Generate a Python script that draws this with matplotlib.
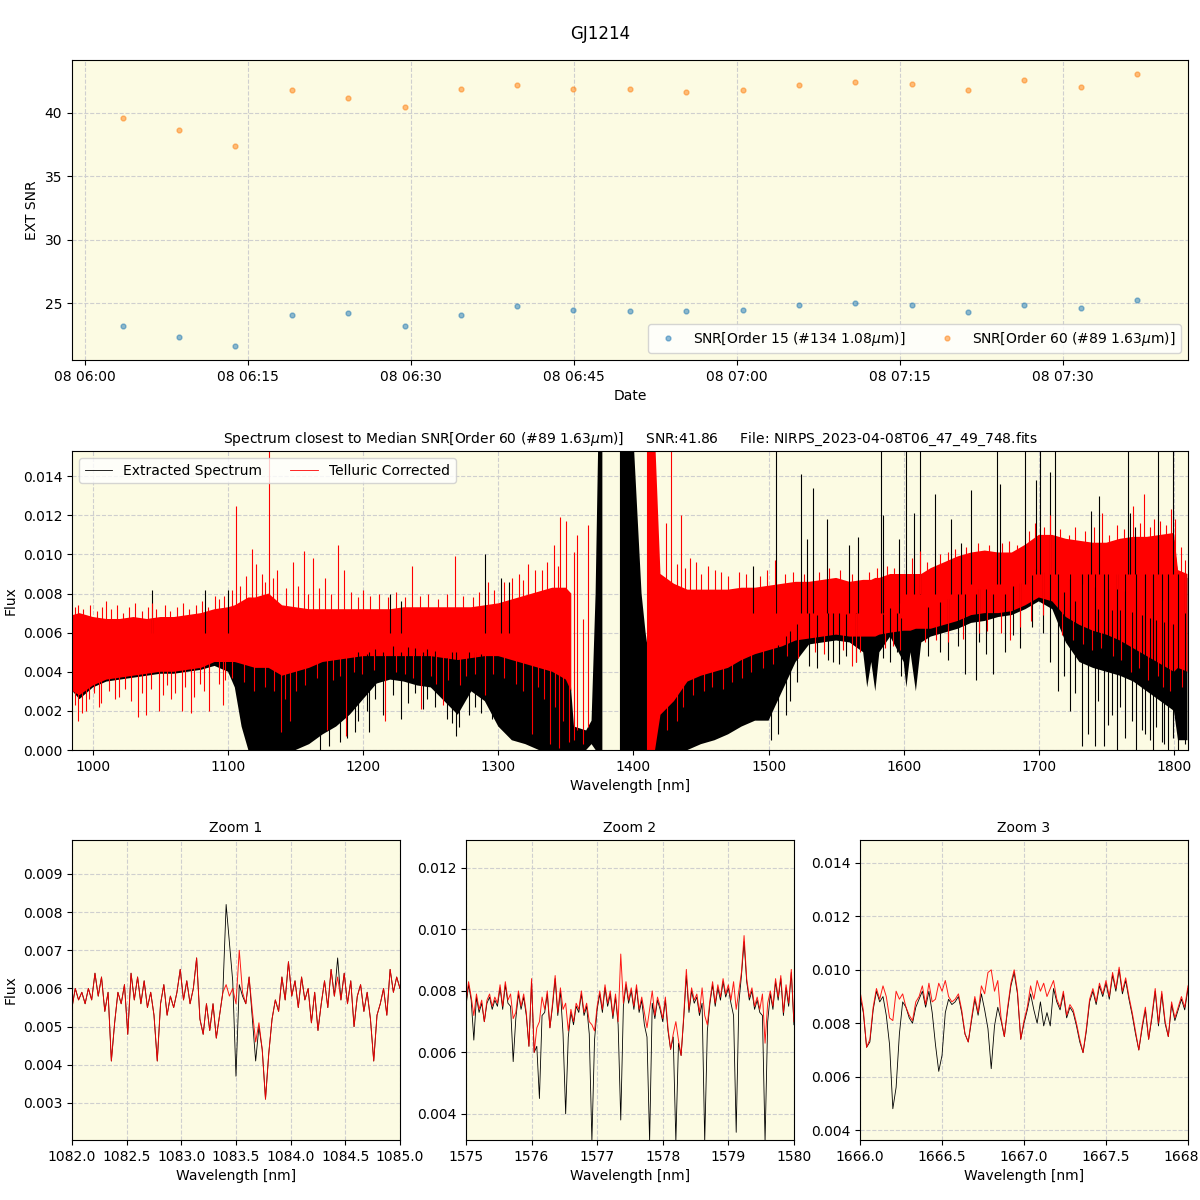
import numpy as np
import matplotlib
matplotlib.use('Agg')
import matplotlib.pyplot as plt
import matplotlib.dates as mdates
from matplotlib.lines import Line2D
from datetime import datetime

BG = '#fcfbe3'
GRID = dict(linestyle='--', color='#cfcfcf', linewidth=0.8)

# ---------------- SNR vs time (top panel) ----------------
obs_times = ['06:03:30', '06:08:39', '06:13:48', '06:19:03', '06:24:12', '06:29:27',
             '06:34:36', '06:39:45', '06:44:55', '06:50:09', '06:55:19', '07:00:33',
             '07:05:43', '07:10:52', '07:16:06', '07:21:16', '07:26:25', '07:31:40',
             '07:36:49']
snr_order15 = [23.2, 22.3, 21.6, 24.1, 24.2, 23.2, 24.1, 24.8, 24.45, 24.4,
               24.4, 24.45, 24.85, 25.0, 24.85, 24.3, 24.9, 24.6, 25.25]
snr_order60 = [39.6, 38.65, 37.4, 41.8, 41.2, 40.5, 41.9, 42.2, 41.9, 41.9,
               41.65, 41.8, 42.2, 42.45, 42.3, 41.8, 42.6, 42.05, 43.1]

# ---------------- full spectrum, envelope of the dense trace (flux in 1e-3) ----------------
nan = np.nan
env_wl = [985, 990, 1000, 1010, 1020, 1030, 1040, 1050, 1060, 1070,
          1080, 1090, 1100, 1105, 1110, 1115, 1120, 1130, 1140, 1150,
          1160, 1170, 1180, 1190, 1200, 1210, 1220, 1230, 1240, 1250,
          1260, 1270, 1280, 1290, 1300, 1310, 1320, 1330, 1340, 1350,
          1354, 1356, 1365, 1369, 1372, 1374, 1377, 1378, 1389, 1390,
          1400, 1403, 1406, 1409, 1410, 1416, 1420, 1430, 1440, 1450,
          1460, 1470, 1480, 1490, 1500, 1510, 1520, 1530, 1540, 1550,
          1560, 1570, 1573, 1576, 1579, 1582, 1590, 1600, 1602, 1605,
          1609, 1613, 1620, 1630, 1640, 1650, 1660, 1670, 1680, 1690,
          1700, 1710, 1720, 1730, 1740, 1750, 1760, 1770, 1780, 1790,
          1800, 1803, 1810]
red_lo = [3.0, 2.8, 3.3, 3.6, 3.7, 3.8, 3.9, 4.0, 4.0, 4.1,
          4.2, 4.5, 4.5, 4.5, 4.4, 4.3, 4.2, 4.2, 3.8, 4.0,
          4.2, 4.5, 4.6, 4.7, 4.8, 4.8, 4.8, 4.8, 4.8, 4.8,
          4.7, 4.6, 4.7, 4.8, 4.8, 4.6, 4.4, 4.2, 4.0, 3.6,
          3.0, nan, nan, nan, nan, nan, nan, nan, nan, nan,
          nan, nan, nan, nan, 0.0, 0.0, 1.8, 2.5, 3.5, 3.8,
          4.0, 4.2, 4.6, 4.9, 5.1, 5.3, 5.6, 5.7, 5.8, 5.9,
          5.8, 5.8, 5.8, 5.8, 5.8, 5.9, 6.0, 6.1, 6.1, 6.1,
          6.2, 6.2, 6.2, 6.4, 6.6, 6.9, 7.0, 7.0, 7.1, 7.4,
          7.8, 7.6, 6.8, 6.4, 6.1, 5.9, 5.6, 5.2, 4.8, 4.4,
          4.0, 4.2, 4.0]
red_hi = [6.9, 7.0, 6.8, 6.7, 6.7, 6.8, 6.7, 6.8, 6.8, 6.9,
          7.0, 7.2, 7.3, 7.4, 7.6, 7.8, 7.8, 8.0, 7.4, 7.3,
          7.2, 7.2, 7.2, 7.2, 7.2, 7.2, 7.2, 7.3, 7.3, 7.3,
          7.3, 7.3, 7.3, 7.4, 7.5, 7.7, 7.9, 8.1, 8.3, 8.3,
          8.0, nan, nan, nan, nan, nan, nan, nan, nan, nan,
          nan, nan, nan, nan, 16.0, 16.0, 9.0, 8.5, 8.2, 8.2,
          8.2, 8.2, 8.3, 8.3, 8.4, 8.5, 8.6, 8.6, 8.7, 8.8,
          8.6, 8.7, 8.7, 8.7, 8.8, 8.8, 9.0, 9.0, 9.0, 9.0,
          9.0, 9.0, 9.3, 9.6, 9.9, 10.1, 10.2, 10.1, 10.1, 10.5,
          11.0, 11.0, 10.8, 10.7, 10.6, 10.6, 10.8, 10.9, 10.9, 11.0,
          11.1, 9.2, 9.0]
blk_lo = [3.0, 2.6, 3.2, 3.5, 3.6, 3.7, 3.8, 3.9, 3.9, 4.0,
          4.1, 4.3, 4.0, 3.2, 1.2, 0.0, 0.0, 0.0, 0.0, 0.0,
          0.3, 0.8, 1.2, 1.8, 2.6, 3.4, 3.6, 3.5, 3.3, 3.2,
          2.5, 1.8, 3.0, 2.5, 1.2, 0.5, 0.3, 0.0, 0.0, 0.0,
          0.0, 0.0, 0.0, 0.3, 0.0, 0.0, 0.0, nan, nan, 0.0,
          0.0, 0.0, 0.0, 0.0, 0.0, 0.0, 0.0, 0.0, 0.0, 0.3,
          0.5, 0.8, 1.2, 1.5, 1.5, 3.0, 4.5, 5.4, 5.5, 5.6,
          5.5, 5.0, 3.2, 4.5, 3.0, 5.0, 5.8, 4.5, 3.2, 5.0,
          3.0, 5.5, 5.8, 6.0, 6.2, 6.5, 6.6, 6.8, 6.9, 7.2,
          7.6, 7.2, 5.5, 4.5, 4.2, 4.0, 3.8, 3.5, 3.0, 2.5,
          2.0, 0.5, 0.5]
blk_hi = [6.8, 6.9, 6.7, 6.6, 6.6, 6.7, 6.6, 6.7, 6.7, 6.8,
          6.9, 7.0, 7.1, 7.2, 7.3, 7.4, 7.5, 7.6, 7.2, 7.1,
          7.0, 7.0, 7.0, 7.0, 7.0, 7.0, 7.0, 7.1, 7.1, 7.1,
          7.1, 7.1, 7.1, 7.2, 7.3, 7.4, 7.5, 7.6, 7.7, 7.6,
          3.0, 1.2, 1.0, 1.5, 8.0, 16.0, 16.0, nan, nan, 16.0,
          16.0, 12.0, 8.0, 6.0, 5.5, 7.0, 8.0, 8.0, 7.9, 7.9,
          7.9, 7.9, 8.0, 8.0, 8.1, 8.2, 8.3, 8.3, 8.4, 8.5,
          8.3, 8.4, 8.4, 8.4, 8.5, 8.5, 8.7, 8.7, 8.7, 8.7,
          8.7, 8.7, 9.0, 9.3, 9.6, 9.8, 9.9, 9.8, 9.8, 10.2,
          10.7, 10.7, 10.5, 10.4, 10.3, 10.3, 10.5, 10.6, 10.6, 10.7,
          10.8, 9.0, 8.8]

# isolated lines sticking far out of the band: wavelength, bottom, top (1e-3)
red_spk_wl = [989, 1010, 1044, 1090, 1106, 1118, 1121, 1125, 1130, 1136,
              1148, 1156, 1163, 1172, 1181, 1186, 1200, 1236, 1268, 1292,
              1310, 1322, 1332, 1341, 1346, 1350, 1356, 1358, 1363, 1366,
              1424, 1428, 1435, 1446, 1460, 1478, 1505, 1580, 1606, 1612,
              1708, 1747, 1770, 1778, 1785, 1798, 1805, 1808,
              989, 995, 1004.7, 1016, 1033.6, 1039.5, 1049, 1058, 1065.7, 1072.7,
              1086, 1096, 1139, 1146, 1173, 1187, 1216.5, 1243, 1259, 1290,
              1325, 1338, 1345, 1352, 1565]
red_spk_lo = [5.0, 5.0, 5.0, 5.5, 6.0, 6.0, 6.0, 6.0, 6.0, 6.0,
              6.0, 6.0, 6.0, 6.0, 6.0, 6.0, 6.0, 6.0, 6.0, 6.0,
              6.0, 6.0, 6.0, 6.0, 6.0, 6.0, 0.5, 1.0, 0.3, 1.2,
              6.0, 6.0, 6.0, 6.0, 6.0, 6.0, 7.0, 7.0, 8.0, 8.0,
              9.0, 9.0, 9.0, 9.0, 9.0, 9.0, 7.0, 7.0,
              1.5, 2.0, 2.2, 2.6, 1.7, 1.8, 2.0, 2.6, 2.0, 1.9,
              2.0, 2.3, 0.9, 1.5, 1.0, 0.7, 1.5, 2.1, 2.3, 2.8,
              0.8, 0.3, 0.1, 0.4, 4.5]
red_spk_hi = [7.4, 7.6, 7.5, 7.9, 12.5, 10.3, 9.5, 9.0, 15.5, 9.2,
              9.6, 10.2, 9.8, 8.8, 10.5, 9.2, 8.2, 9.4, 9.9, 8.6,
              8.8, 9.5, 9.2, 10.5, 11.9, 11.7, 10.1, 11.0, 6.7, 11.5,
              11.6, 15.5, 12.0, 9.6, 9.2, 9.1, 9.7, 9.3, 9.8, 10.2,
              12.0, 12.1, 12.5, 13.1, 11.8, 12.3, 10.4, 9.7,
              5.0, 5.0, 5.0, 5.0, 5.0, 5.0, 5.0, 5.0, 5.0, 5.0,
              5.5, 5.5, 5.5, 5.5, 5.5, 5.5, 5.5, 5.5, 5.5, 5.5,
              5.5, 5.5, 5.5, 5.5, 7.0]
blk_spk_wl = [1044, 1083, 1100, 1219.6, 1228, 1290.5, 1301.8, 1308, 1488.6, 1505.3,
              1523.7, 1528.8, 1532.7, 1543, 1559.7, 1566, 1583, 1584.5, 1596.6, 1602,
              1607.8, 1612, 1623.4, 1635, 1642.6, 1649.7, 1669, 1671, 1690, 1698,
              1701, 1708, 1712, 1738.5, 1744.5, 1766, 1767.6, 1771.5, 1788.5, 1799,
              1196, 1204.6, 1215, 1228, 1244, 1265.5, 1268.5, 1278, 1530, 1548,
              1565, 1595, 1640, 1645, 1653.4, 1666, 1675, 1708.6, 1714, 1723.4,
              1731.6, 1736.5, 1741.5, 1748.3, 1751, 1757.5, 1763.6, 1772, 1778.5, 1784.6,
              1790.8, 1795.7, 1803, 1808]
blk_spk_lo = [6.0, 6.0, 6.0, 6.0, 6.0, 6.0, 6.0, 6.0, 7.0, 7.0,
              7.0, 7.0, 7.0, 7.0, 7.0, 7.0, 7.0, 7.0, 7.0, 8.0,
              8.0, 8.0, 8.0, 8.0, 8.0, 8.5, 8.5, 8.5, 8.5, 9.0,
              9.0, 9.0, 9.0, 9.0, 9.0, 9.0, 9.0, 9.0, 9.0, 9.0,
              1.5, 0.9, 1.8, 1.6, 2.1, 1.4, 0.7, 1.8, 4.3, 4.5,
              4.5, 5.0, 5.3, 3.9, 3.6, 3.9, 5.0, 4.5, 3.0, 2.0,
              0.2, 0.8, 0.2, 0.2, 1.3, 0.0, 0.6, 0.0, 0.8, 0.0,
              0.4, 0.0, 0.0, 0.3]
blk_spk_hi = [8.2, 8.2, 8.2, 8.0, 7.6, 10.0, 8.8, 8.6, 9.4, 15.5,
              14.1, 10.8, 13.4, 11.8, 10.5, 10.9, 15.5, 12.0, 10.8, 15.5,
              12.1, 15.5, 13.1, 11.8, 10.6, 13.3, 15.5, 13.6, 15.5, 13.8,
              15.5, 14.2, 15.5, 12.2, 13.0, 15.5, 12.1, 11.4, 15.5, 15.5,
              5.0, 5.0, 5.0, 5.0, 5.0, 5.0, 5.0, 5.0, 7.0, 7.0,
              7.0, 7.0, 8.0, 8.0, 8.0, 8.0, 8.0, 9.0, 9.0, 9.0,
              9.0, 9.0, 9.0, 9.0, 9.0, 9.0, 9.0, 9.0, 9.0, 9.0,
              9.0, 9.0, 9.0, 9.0]

# small tips that make the band edges ragged (1e-3)
red_up_wl = [987, 993, 998, 1003, 1007, 1013, 1018, 1022, 1027, 1031, 1036, 1041,
             1047, 1053, 1057, 1062, 1067, 1071, 1076, 1081, 1085, 1093, 1097,
             1103, 1109, 1113, 1127, 1133, 1143, 1152, 1159, 1167, 1176, 1191,
             1196, 1205, 1212, 1218, 1224, 1231, 1242, 1248, 1255, 1262, 1274,
             1281, 1286, 1297, 1304, 1315, 1318, 1327, 1336, 1344,
             1432, 1438, 1442, 1450, 1455, 1465, 1470, 1483, 1494, 1499,
             1512, 1518, 1526, 1537, 1545, 1553, 1562, 1574, 1588, 1593,
             1617, 1627, 1633, 1638, 1646, 1655, 1663, 1673, 1678, 1684, 1693,
             1697, 1704, 1716, 1722, 1727, 1734, 1741, 1752, 1758, 1763, 1775,
             1782, 1790, 1794, 1801]
red_up_tip = [7.3, 7.2, 7.4, 7.1, 7.3, 7.2, 7.4, 7.0, 7.3, 7.5, 7.1, 7.3,
              7.2, 7.4, 7.1, 7.3, 7.5, 7.2, 7.4, 7.6, 7.3, 7.7, 7.9,
              8.2, 8.4, 8.9, 8.6, 8.8, 8.3, 8.4, 8.0, 8.3, 8.0, 8.1,
              7.8, 7.9, 8.0, 7.8, 8.1, 7.8, 7.9, 8.0, 7.7, 8.0, 7.9,
              7.8, 8.1, 8.2, 8.6, 9.0, 8.7, 9.2, 9.6, 9.4,
              9.5, 9.3, 9.8, 9.0, 9.4, 9.1, 8.9, 9.0, 8.9, 9.2,
              9.0, 9.1, 9.0, 9.1, 9.3, 9.2, 9.0, 9.1, 9.4, 9.3,
              9.6, 10.0, 10.1, 10.3, 10.4, 10.6, 10.5, 10.6, 10.7, 10.5, 11.2,
              11.6, 11.4, 11.3, 11.0, 11.4, 11.2, 11.4, 11.0, 11.5, 11.3, 11.6,
              11.4, 11.7, 11.5, 11.8]
red_dn_wl = [987, 992, 997, 1001, 1006, 1012, 1019, 1024, 1028, 1036,
             1043, 1052, 1055, 1061, 1068, 1075, 1079, 1082, 1093, 1098,
             1103, 1112, 1119, 1127, 1134, 1142, 1150, 1157, 1166, 1178,
             1183, 1193, 1199, 1208, 1224, 1231, 1237, 1250, 1254, 1263,
             1272, 1276, 1283, 1296, 1304, 1313, 1318, 1329, 1334, 1342, 1348,
             1425, 1432, 1437, 1444, 1452, 1458, 1466, 1473, 1480, 1487, 1496,
             1503, 1514, 1522, 1534, 1541, 1555, 1562, 1568, 1586, 1592, 1597,
             1616, 1624, 1633, 1644, 1656, 1662, 1672, 1679, 1686, 1694, 1703,
             1717, 1725, 1733, 1739, 1746, 1755, 1761, 1768, 1774, 1781, 1788,
             1792, 1797, 1806]
red_dn_tip = [2.3, 1.9, 2.6, 2.9, 2.4, 3.0, 2.7, 3.1, 2.5, 2.9,
              3.1, 2.8, 3.3, 2.9, 3.2, 2.7, 3.4, 3.0, 3.4, 3.6,
              3.7, 3.5, 3.0, 3.2, 3.0, 2.6, 3.0, 3.3, 3.7, 3.6,
              3.8, 4.0, 3.9, 4.1, 4.0, 3.9, 3.7, 3.8, 3.4, 3.6,
              3.3, 3.8, 3.9, 3.9, 3.7, 3.4, 3.0, 3.2, 2.6, 2.2, 1.5,
              1.0, 1.5, 2.2, 2.8, 3.0, 3.2, 3.1, 3.5, 3.7, 4.0, 4.2,
              4.4, 4.8, 4.7, 5.0, 4.9, 5.1, 4.3, 5.0, 5.2, 5.3, 5.1,
              5.5, 5.6, 5.5, 5.7, 6.0, 6.1, 6.0, 5.6, 6.3, 6.6, 6.9,
              5.9, 5.6, 5.4, 5.1, 5.2, 4.8, 4.6, 4.0, 4.2, 3.6, 3.8,
              3.2, 3.0, 3.2]
blk_dn_wl = [1168, 1175, 1183, 1188, 1194, 1203, 1209, 1222, 1233, 1238,
             1247, 1253, 1262, 1271, 1283, 1287, 1295, 1502, 1507, 1513,
             1516, 1521, 1536, 1544, 1552, 1557, 1585, 1590, 1598, 1618,
             1627, 1633, 1656, 1661, 1681, 1686, 1695, 1703, 1719, 1727,
             1744, 1754, 1760, 1769, 1776, 1782, 1787, 1793, 1799]
blk_dn_tip = [0.0, 0.2, 0.4, 0.6, 0.9, 2.0, 2.6, 2.8, 2.4, 2.9,
              2.6, 2.2, 1.6, 1.2, 2.2, 1.9, 1.6, 0.5, 0.8, 1.8,
              2.5, 3.5, 4.2, 4.6, 4.4, 4.8, 4.7, 4.5, 3.8, 4.8,
              5.0, 4.6, 5.5, 4.9, 5.9, 5.2, 6.3, 6.0, 3.8, 2.9,
              2.5, 1.8, 2.2, 1.5, 1.0, 0.5, 1.2, 0.3, 0.6]

# ---------------- zoom windows (flux in 1e-3) ----------------
zoom1_range = (1082.0, 1085.0)
zoom1_red = [5.5, 6.0, 5.7, 5.9, 5.6, 6.0, 5.7, 6.4, 5.8, 6.3,
             5.4, 5.9, 4.1, 5.1, 5.9, 5.6, 6.1, 4.8, 6.4, 5.7,
             6.3, 5.6, 6.2, 5.5, 5.9, 5.3, 4.1, 5.6, 6.1, 5.3,
             5.8, 5.5, 5.9, 6.5, 5.7, 6.2, 5.6, 6.0, 6.8, 5.2,
             4.8, 5.6, 4.9, 5.6, 4.7, 5.3, 5.9, 6.1, 5.8, 6.0,
             5.6, 7.0, 5.9, 5.6, 6.3, 5.4, 4.6, 5.1, 4.4, 3.1,
             4.3, 5.2, 5.7, 5.4, 6.3, 5.7, 6.7, 5.8, 6.2, 5.5,
             6.3, 5.7, 6.0, 5.1, 5.9, 4.9, 5.6, 6.2, 5.5, 6.5,
             5.8, 6.3, 5.7, 6.4, 5.6, 6.2, 5.0, 5.8, 6.1, 5.4,
             5.9, 5.2, 4.1, 5.3, 5.6, 6.0, 5.3, 6.5, 5.9, 6.3,
             6.0]
zoom1_blk = [5.5, 6.0, 5.7, 5.9, 5.6, 6.0, 5.7, 6.4, 5.8, 6.3,
             5.4, 5.9, 4.1, 5.1, 5.9, 5.6, 6.1, 4.8, 6.4, 5.7,
             6.3, 5.6, 6.2, 5.5, 5.9, 5.3, 4.1, 5.6, 6.1, 5.3,
             5.8, 5.5, 5.9, 6.5, 5.7, 6.2, 5.6, 6.0, 6.8, 5.2,
             4.8, 5.6, 4.9, 5.6, 4.7, 5.3, 5.9, 8.2, 7.2, 6.2,
             3.7, 6.1, 5.8, 5.6, 6.3, 5.2, 4.1, 5.0, 4.4, 3.1,
             4.3, 5.2, 5.7, 5.4, 6.3, 5.7, 6.7, 5.8, 6.2, 5.5,
             6.3, 5.7, 6.0, 5.1, 5.9, 4.9, 5.6, 6.2, 5.5, 6.5,
             5.8, 6.8, 5.7, 6.4, 5.6, 6.2, 5.0, 5.8, 6.1, 5.4,
             5.9, 5.2, 4.1, 5.3, 5.6, 6.0, 5.3, 6.5, 5.9, 6.3,
             6.0]
zoom2_range = (1575.0, 1580.0)
zoom2_red = [7.6, 8.3, 7.8, 7.2, 7.9, 7.4, 7.7, 7.0, 7.7, 7.9,
             7.5, 7.8, 7.6, 8.2, 7.5, 8.3, 7.7, 7.9, 7.1, 7.3,
             8.0, 7.5, 7.9, 7.3, 6.2, 8.4, 6.0, 6.8, 7.0, 7.8,
             7.4, 8.0, 6.8, 7.6, 8.5, 7.3, 8.1, 7.4, 7.6, 6.7,
             7.4, 7.0, 7.6, 7.4, 8.0, 7.3, 7.6, 7.0, 6.9, 6.7,
             7.5, 8.0, 7.4, 8.2, 7.6, 8.0, 7.2, 7.9, 7.0, 9.2,
             7.6, 8.3, 7.7, 8.1, 7.5, 8.2, 7.4, 7.8, 7.3, 6.8,
             7.4, 8.0, 7.2, 7.8, 7.5, 7.1, 7.8, 6.8, 6.1, 6.6,
             7.0, 6.4, 5.9, 7.2, 8.7, 7.4, 8.1, 7.7, 7.9, 7.3,
             8.1, 7.2, 6.9, 7.7, 8.3, 7.6, 8.2, 7.8, 8.4, 7.9,
             8.2, 7.7, 8.3, 7.4, 8.0, 8.6, 9.8, 8.4, 7.8, 8.1,
             7.5, 7.8, 7.4, 7.9, 6.3, 7.6, 8.0, 7.5, 8.4, 7.8,
             8.5, 7.3, 8.2, 7.6, 8.7, 7.0]
zoom2_blk = [7.5, 8.2, 7.7, 6.4, 7.8, 7.3, 7.6, 7.0, 7.6, 7.8,
             7.4, 7.7, 7.5, 8.1, 7.4, 8.2, 7.6, 7.5, 5.7, 7.1,
             7.9, 7.4, 7.8, 7.2, 6.2, 8.3, 6.0, 6.2, 4.5, 7.2,
             7.3, 7.9, 6.8, 7.5, 8.4, 7.2, 8.0, 6.6, 4.0, 6.5,
             7.3, 6.9, 7.5, 7.3, 7.9, 7.2, 7.5, 6.6, 3.1, 6.4,
             7.4, 7.9, 7.3, 8.1, 7.5, 7.9, 7.1, 7.8, 6.9, 3.8,
             7.5, 8.2, 7.6, 8.0, 7.4, 8.1, 7.3, 7.7, 6.9, 6.5,
             3.1, 7.6, 7.1, 7.7, 7.4, 7.0, 7.7, 6.7, 6.1, 6.5,
             3.1, 6.3, 5.9, 7.1, 8.5, 7.3, 8.0, 7.6, 7.8, 7.2,
             7.6, 3.1, 6.7, 7.6, 8.2, 7.5, 8.1, 7.7, 8.3, 7.8,
             8.1, 7.6, 7.2, 3.4, 7.6, 8.5, 9.6, 8.3, 7.7, 8.0,
             7.4, 7.7, 7.3, 7.2, 3.1, 7.0, 7.9, 7.4, 8.3, 7.7,
             8.4, 7.2, 8.1, 7.5, 8.6, 6.9]
zoom3_range = (1666.0, 1668.0)
zoom3_red = [9.2, 8.5, 7.1, 7.4, 8.6, 9.3, 8.9, 9.4, 9.0, 8.2,
             8.1, 9.2, 8.9, 9.1, 8.6, 8.3, 8.1, 8.8, 9.0, 9.4,
             8.7, 9.5, 8.8, 8.9, 9.5, 9.2, 9.6, 9.0, 8.8, 8.9,
             9.1, 8.5, 7.6, 7.3, 8.2, 9.0, 8.4, 9.4, 9.1, 9.9,
             10.0, 9.2, 9.6, 8.2, 7.5, 8.6, 9.5, 10.0, 9.2, 7.4,
             8.1, 8.6, 9.4, 8.9, 9.6, 9.2, 9.5, 9.0, 9.3, 9.6,
             8.9, 8.6, 9.2, 8.3, 8.7, 8.5, 8.0, 7.4, 6.9, 7.8,
             8.9, 9.3, 8.8, 9.5, 9.1, 9.6, 9.0, 9.9, 9.3, 10.1,
             9.2, 9.7, 9.0, 8.4, 7.7, 7.0, 7.9, 8.6, 7.4, 8.3,
             9.3, 8.0, 9.2, 8.1, 7.5, 8.8, 8.2, 8.6, 9.0, 8.6,
             9.4]
zoom3_blk = [9.0, 8.4, 7.1, 7.3, 8.5, 9.2, 8.8, 9.0, 8.3, 7.2,
             4.8, 5.6, 7.6, 8.8, 8.6, 8.2, 8.0, 8.6, 8.9, 9.2,
             8.6, 9.2, 8.4, 7.2, 6.2, 6.8, 8.4, 8.9, 8.7, 8.8,
             9.0, 8.4, 7.6, 7.3, 8.1, 8.9, 8.3, 9.1, 8.5, 7.8,
             6.3, 7.9, 8.6, 8.1, 7.5, 8.5, 9.4, 9.9, 9.1, 7.4,
             8.0, 8.5, 9.1, 8.5, 8.0, 8.8, 7.9, 8.4, 7.9, 9.3,
             8.8, 8.5, 9.1, 8.2, 8.6, 8.4, 7.9, 7.3, 6.9, 7.7,
             8.8, 9.2, 8.7, 9.4, 9.0, 9.5, 8.9, 9.8, 9.2, 10.0,
             9.1, 9.6, 8.9, 8.3, 7.6, 7.0, 7.8, 8.5, 7.4, 8.2,
             9.2, 7.9, 9.1, 8.0, 7.5, 8.7, 8.1, 8.5, 8.9, 8.5,
             9.3]

zooms = [('Zoom 1', zoom1_range, zoom1_blk, zoom1_red, (0.00203, 0.00989)),
         ('Zoom 2', zoom2_range, zoom2_blk, zoom2_red, (0.00315, 0.01291)),
         ('Zoom 3', zoom3_range, zoom3_blk, zoom3_red, (0.00363, 0.01486))]


def style(ax):
    ax.set_facecolor(BG)
    ax.set_axisbelow(True)
    ax.grid(True, **GRID)


fig = plt.figure(figsize=(12, 12), dpi=100)
fig.suptitle('GJ1214', y=0.979, fontsize=12)

# top panel
ax1 = fig.add_axes([0.06, 0.70, 0.93, 0.25])
style(ax1)
t = [datetime.strptime('2023-04-08 ' + s, '%Y-%m-%d %H:%M:%S') for s in obs_times]
ax1.plot(t, snr_order15, 'o', ms=3.5, alpha=0.5, color='tab:blue',
         label=r'SNR[Order 15 (#134 1.08$\mu$m)]')
ax1.plot(t, snr_order60, 'o', ms=3.5, alpha=0.5, color='tab:orange',
         label=r'SNR[Order 60 (#89 1.63$\mu$m)]')
ax1.xaxis.set_major_locator(mdates.MinuteLocator(byminute=[0, 15, 30, 45]))
ax1.xaxis.set_major_formatter(mdates.DateFormatter('%d %H:%M'))
ax1.set_xlabel('Date')
ax1.set_ylabel('EXT SNR')
ax1.legend(loc='lower right', ncol=2)

# full spectrum
ax2 = fig.add_axes([0.06, 0.375, 0.93, 0.249])
style(ax2)
wl = np.array(env_wl)
rlo, rhi = np.array(red_lo) * 1e-3, np.array(red_hi) * 1e-3
blo, bhi = np.array(blk_lo) * 1e-3, np.array(blk_hi) * 1e-3
red_mid = (rlo + rhi) / 2
blk_mid = (blo + bhi) / 2

ax2.fill_between(wl, blo, bhi, color='black', linewidth=0)
ax2.vlines(blk_spk_wl, np.array(blk_spk_lo) * 1e-3, np.array(blk_spk_hi) * 1e-3,
           color='black', linewidth=0.8)
ax2.vlines(blk_dn_wl, np.array(blk_dn_tip) * 1e-3, np.interp(blk_dn_wl, wl, blk_mid),
           color='black', linewidth=0.8)
ax2.fill_between(wl, rlo, rhi, color='red', linewidth=0)
ax2.vlines(red_spk_wl, np.array(red_spk_lo) * 1e-3, np.array(red_spk_hi) * 1e-3,
           color='red', linewidth=0.8)
ax2.vlines(red_up_wl, np.interp(red_up_wl, wl, red_mid), np.array(red_up_tip) * 1e-3,
           color='red', linewidth=0.8)
ax2.vlines(red_dn_wl, np.array(red_dn_tip) * 1e-3, np.interp(red_dn_wl, wl, red_mid),
           color='red', linewidth=0.8)
ax2.set_xlim(984.5, 1810.4)
ax2.set_ylim(0, 0.01528)
ax2.set_xlabel('Wavelength [nm]')
ax2.set_ylabel('Flux')
ax2.set_title(r'Spectrum closest to Median SNR[Order 60 (#89 1.63$\mu$m)]     SNR:41.86     '
              'File: NIRPS_2023-04-08T06_47_49_748.fits', fontsize=10)
handles = [Line2D([], [], color='black', lw=0.6), Line2D([], [], color='red', lw=0.6)]
ax2.legend(handles, ['Extracted Spectrum', 'Telluric Corrected'], loc='upper left', ncol=2)

# zoom panels
lefts = [0.06, 0.3883, 0.7167]
for i, (title, (w0, w1), blk, red, ylim) in enumerate(zooms):
    ax = fig.add_axes([lefts[i], 0.05, 0.2733, 0.25])
    style(ax)
    x = np.linspace(w0, w1, len(red))
    ax.plot(x, np.array(blk) * 1e-3, color='black', lw=0.6)
    ax.plot(x, np.array(red) * 1e-3, color='red', lw=0.7, alpha=0.9)
    ax.set_xlim(w0, w1)
    ax.set_ylim(*ylim)
    ax.set_title(title, fontsize=10)
    ax.set_xlabel('Wavelength [nm]')
    if i == 0:
        ax.set_ylabel('Flux')

fig.savefig('out.png', dpi=100)
